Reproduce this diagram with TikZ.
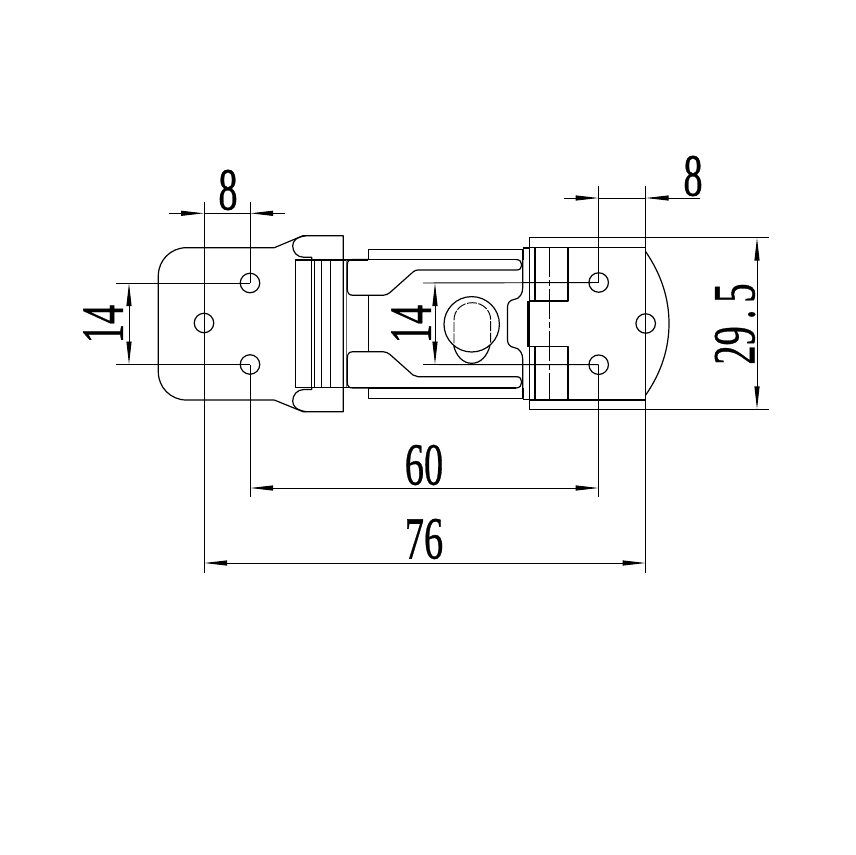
\documentclass[tikz,border=0pt]{standalone}
\usepackage{fontspec}
\setmainfont[FakeBold=0.7]{Liberation Serif}
\usetikzlibrary{arrows.meta}
\tikzset{
  part/.style={draw=black,line width=1.2pt,line join=round},
  heavy/.style={draw=black,line width=1.7pt},
  thin line/.style={draw=black,line width=0.95pt},
  hole/.style={circle,draw=black,line width=1.2pt,minimum size=19.5pt,inner sep=0pt},
  dimline/.style={draw=black,line width=0.95pt,-{Triangle[length=23pt,width=5pt]}},
  dimtext/.style={inner sep=0pt,font=\fontsize{60}{60}\selectfont}
}
\newcommand{\dimnum}[1]{\scalebox{0.64}[1]{#1}}
\begin{document}
\begin{tikzpicture}[x=1pt,y=-1pt]
\useasboundingbox[fill=white] (0,0) rectangle (855,855);
% reference points
\coordinate (h1) at (250,283);
\coordinate (h2) at (250,364.5);
\coordinate (h3) at (204,323);
\coordinate (h4) at (598.7,282.5);
\coordinate (h5) at (598.7,364.7);
\coordinate (h6) at (645.7,323.5);
% left plate
\draw[part,rounded corners=28pt] (274.3,247.7) -- (158.3,247.7) -- (158.3,400) -- (274.3,400);
\draw[part] (274.3,247.7) -- (303,235.7) -- (343.3,235.7) -- (343.3,411.7) -- (303,411.7) -- (274.3,400);
\draw[part] (306,235.7) .. controls (296,237) and (292.7,241) .. (292.7,246) .. controls (292.7,252) and (297,257.3) .. (304,257.3) -- (311.7,257.3) -- (311.7,260);
\draw[part] (306,411.7) .. controls (296,410) and (292.7,406) .. (292.7,401) .. controls (292.7,395) and (297,389.5) .. (304,389.5) -- (311.7,389.5) -- (311.7,387.3);
\draw[part] (295.7,260) rectangle (311.7,387.3);
\draw[part] (311.7,260) -- (368,260);
\draw[part] (311.7,387.3) -- (368,387.3);
\foreach \x in {314,321.7,330}{\draw[thin line] (\x,260) -- (\x,387.3);}
\draw[thin line,draw=black!60] (346.7,260) -- (346.7,387.3);
% centre slide
\draw[part] (368.3,259.5) -- (368.3,249.3) -- (523,249.3) -- (523,259.5);
\draw[part] (368.3,388) -- (368.3,398.3) -- (523,398.3) -- (523,388);
\draw[heavy] (368.3,259.5) -- (516,259.5);
\draw[heavy] (368.3,388) -- (516,388);
\draw[part] (368.3,259.5) -- (353,259.5) .. controls (349,259.5) and (347.3,261) .. (347.3,265) -- (347.3,289) .. controls (347.3,293) and (349,295.3) .. (353,295.3) -- (383,295.3) .. controls (386,295.3) and (388,294) .. (390,292.5) -- (413,272) .. controls (415,270.5) and (416,270) .. (418,270) -- (516.7,270) .. controls (520,270) and (521.7,268) .. (521.7,265) .. controls (521.7,262) and (520,259.5) .. (516,259.5);
\draw[part] (368.3,388) -- (353,388) .. controls (349,388) and (347.3,386.5) .. (347.3,382) -- (347.3,358) .. controls (347.3,354) and (349,351.7) .. (353,351.7) -- (383,351.7) .. controls (386,351.7) and (388,353) .. (390,354.5) -- (413,375) .. controls (415,376.2) and (416,376.7) .. (418,376.7) -- (516.7,376.7) .. controls (520,376.7) and (521.7,379) .. (521.7,382) .. controls (521.7,385) and (520,388) .. (516,388);
\draw[part] (368.3,295.3) -- (368.3,351.7);
\draw[part] (522.7,259.5) -- (522.7,288) .. controls (522.7,293) and (520,299) .. (514,299.5) .. controls (510,300) and (507.5,303) .. (507.5,307) -- (507.5,340) .. controls (507.5,344) and (510,347) .. (514,347.5) .. controls (520,348) and (522.7,354) .. (522.7,359) -- (522.7,388);
\node[circle,draw=black,line width=1.2pt,minimum size=55.4pt,inner sep=0pt] (knob) at (471.7,324.3) {};
\draw[part] (453.6,345.3) .. controls (456,356) and (463,363.3) .. (471.7,363.3) .. controls (480.5,363.3) and (487.5,356) .. (490,345.3);
\draw[thin line,dash pattern=on 10pt off 1.5pt] (454,343.3) -- (454,320) .. controls (454,310) and (462,302.7) .. (472.3,302.7) .. controls (482.5,302.7) and (490.7,310) .. (490.7,320) -- (490.7,343.3);
% right plate
\draw[part] (529.3,237.7) rectangle (645.7,409.3);
\draw[part] (529.3,247.3) -- (645.7,247.3);
\draw[part] (529.3,400) -- (645.7,400);
\draw[part] (535,247.3) -- (535,301);
\draw[part] (535,346.7) -- (535,400);
\draw[part] (529.3,247.8) rectangle (568,301);
\draw[part] (529.3,346.7) rectangle (568,399.5);
\draw[part] (522.7,248) -- (529.3,248);
\draw[part] (522.7,399.5) -- (529.3,399.5);
\draw[heavy] (528.3,301) -- (528.3,346.7);
\draw[part] (645.7,251.7) .. controls (661,274) and (669,298) .. (669,323.5) .. controls (669,349) and (661,373) .. (645.7,395);
\draw[thin line,dash pattern=on 30pt off 3pt on 6pt off 3pt] (549.7,247) -- (549.7,401);
% holes
\node[hole] (n1) at (h1) {};
\node[hole] (n2) at (h2) {};
\node[hole] (n3) at (h3) {};
\node[hole] (n4) at (h4) {};
\node[hole] (n5) at (h5) {};
\node[hole] (n6) at (h6) {};
% extension lines
\draw[thin line] (204,201.7) -- (204,573);
\draw[thin line] (250,201.7) -- (h1);
\draw[thin line] (h2) -- (250,497);
\draw[thin line] (598.7,186) -- (h4);
\draw[thin line] (h5) -- (598.7,497);
\draw[thin line] (645.7,186) -- (645.7,573);
\draw[thin line] (116,283) -- (h1);
\draw[thin line] (116,364.5) -- (h2);
\draw[thin line] (423,283) -- (h4);
\draw[thin line] (423,364.5) -- (h5);
\draw[thin line] (645.7,237.7) -- (769,237.7);
\draw[thin line] (645.7,409.3) -- (769,409.3);
% dimensions
\draw[thin line] (204,213.3) -- (250,213.3);
\draw[thin line] (598.7,198) -- (645.7,198);
\draw[dimline] (169,213.3) -- (204,213.3);
\draw[dimline] (285,213.3) -- (250,213.3);
\draw[dimline] (564,198) -- (598.7,198);
\draw[dimline] (700,198) -- (645.7,198);
\draw[dimline] (129,323.7) -- (129,283);
\draw[dimline] (129,323.7) -- (129,364.5);
\draw[dimline] (435,323.7) -- (435,283);
\draw[dimline] (435,323.7) -- (435,364.5);
\draw[dimline] (757,323.5) -- (757,237.7);
\draw[dimline] (757,323.5) -- (757,409.3);
\draw[dimline] (424,488) -- (250,488);
\draw[dimline] (424,488) -- (598.7,488);
\draw[dimline] (424,563) -- (204,563);
\draw[dimline] (424,563) -- (645.7,563);
% texts
\node[dimtext] (t8a) at (228,190) {\dimnum{8}};
\node[dimtext] (t8b) at (693,176) {\dimnum{8}};
\node[dimtext,rotate=90] (t14a) at (103,324) {\dimnum{14}};
\node[dimtext,rotate=90] (t14b) at (411,324) {\dimnum{14}};
\node[dimtext,rotate=90] (t295) at (735,324) {\dimnum{29}\hspace{7pt}\dimnum{.}\hspace{7pt}\dimnum{5}};
\node[dimtext] (t60) at (424,465) {\dimnum{60}};
\node[dimtext] (t76) at (424,539) {\dimnum{76}};
\end{tikzpicture}
\end{document}
